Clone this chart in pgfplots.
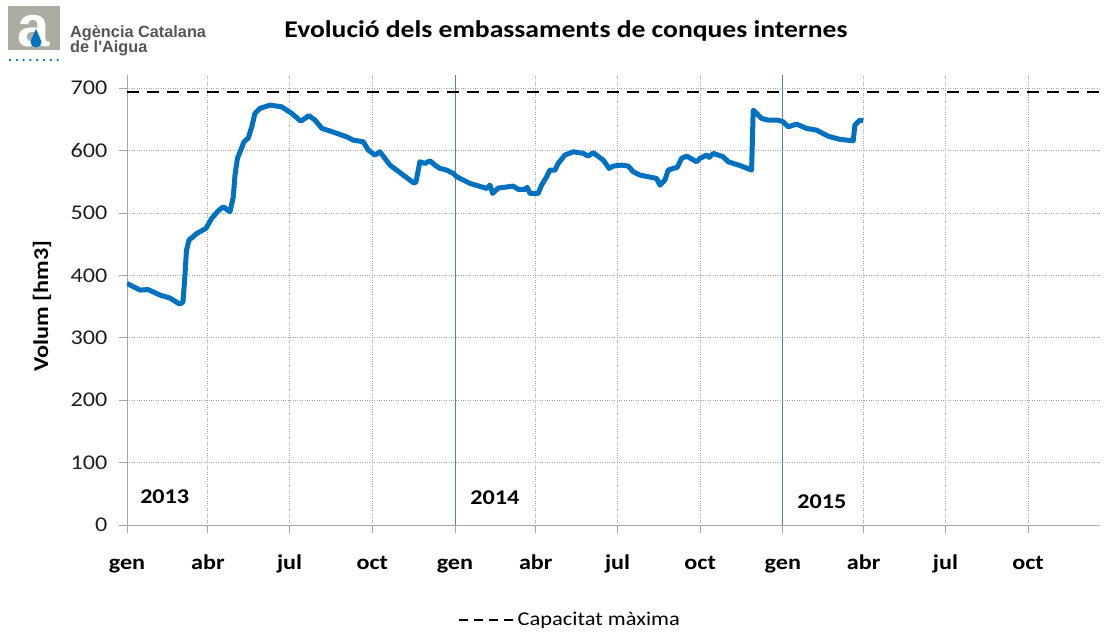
\documentclass[border=0pt]{standalone}
\usepackage{pgfplots}
\pgfplotsset{compat=1.18}
\usepackage{fontspec}
\setmainfont{Carlito}[FakeStretch=1.15]
\newfontfamily\logofont{Liberation Sans}
\definecolor{lineblue}{RGB}{0,112,192}
\definecolor{yearline}{RGB}{79,129,189}
\definecolor{logogray}{RGB}{172,172,162}
\definecolor{logotext}{RGB}{85,85,85}
\definecolor{ticktext}{RGB}{30,30,30}
\begin{document}
\begin{tikzpicture}
\path[use as bounding box] (0pt,0pt) rectangle (1104pt,632pt);
% logo
\fill[logogray] (8pt,582pt) rectangle (60pt,626pt);
\node[text=white, font=\logofont\bfseries\fontsize{58}{58}\selectfont, anchor=base] at (34pt,585pt) {a};
\fill[lineblue] (36pt,590pt) circle (5.5pt);
\fill[lineblue] (31.5pt,593pt) -- (36pt,603pt) -- (40.5pt,593pt) -- cycle;
\foreach \i in {0,...,7} \fill[lineblue] ({10pt+\i*6.8pt},572pt) circle (1.3pt);
\node[anchor=base west, font=\logofont\bfseries\fontsize{16.3}{17}\selectfont, text=logotext, inner sep=0] at (70pt,594pt) {Agència Catalana};
\node[anchor=base west, font=\logofont\bfseries\fontsize{16.3}{17}\selectfont, text=logotext, inner sep=0] at (70pt,579pt) {de l'Aigua};
% title
\node[font=\bfseries\fontsize{24}{28}\selectfont] at (566pt,601pt) {Evolució dels embassaments de conques internes};
\begin{axis}[
  at={(127pt,107pt)}, anchor=south west,
  width=973pt, height=450pt, scale only axis,
  xmin=0, xmax=1083, ymin=0, ymax=721,
  axis lines=left, axis line style={-, gray!70, line width=0.8pt},
  tick align=outside, xtick pos=left, ytick pos=left,
  major tick length=8pt, tick style={gray!70, line width=0.8pt},
  grid=major, major grid style={dotted, gray!70, line width=0.8pt},
  xtick={0,90,181,273,365,455,546,638,730,820,911,1003},
  xticklabels={gen,abr,jul,oct,gen,abr,jul,oct,gen,abr,jul,oct},
  ytick={0,100,...,700},
  /pgf/number format/assume math mode=true,
  yticklabel style={font=\fontsize{21}{25}\selectfont, text=ticktext, xshift=-8pt},
  xticklabel style={font=\bfseries\fontsize{21}{25}\selectfont, text=black, text height=14pt, text depth=5pt, yshift=-19pt},
  ylabel={Volum [hm3]},
  ylabel style={font=\bfseries\fontsize{21}{25}\selectfont, at={(axis description cs:-0.0874,0.487)}, anchor=center},
  legend style={at={(axis description cs:0.455,-0.211)}, anchor=center, draw=none, fill=none, font=\fontsize{19.5}{22}\selectfont},
  legend image code/.code={\draw[black, line width=2.2pt, dash pattern=on 9pt off 6pt] (0pt,0pt) -- (56pt,0pt);},
]
\addplot[yearline, line width=0.8pt, forget plot] coordinates {(365,0) (365,721)};
\addplot[yearline, line width=0.8pt, forget plot] coordinates {(730,0) (730,721)};
\addplot[black, line width=2.5pt, dash pattern=on 12pt off 8pt] coordinates {(0,694) (1083,694)};
\addlegendentry{Capacitat màxima}
\addplot[lineblue, line width=5pt, line join=round, forget plot] table {
x y
0 387
14.5 376.4
23.4 377.2
36.7 368.4
47.9 363.6
58.4 354
62.3 357
64.5 400
66.2 440
69 456.5
77.9 467.2
87.9 475.3
94.3 491.3
101.6 503.4
107.2 509.8
111.3 505.4
114.6 501.8
118.3 525.4
120.2 560.6
123 587.9
127.4 603.4
130.2 614
135 620
139.1 639
142.4 659.5
148 667.5
159.1 672.8
172.2 670
183.3 659.5
193.6 647
202.5 656
209.2 648.7
217 635.4
229.6 629.5
244.5 622
251.8 616.7
263 614
268.5 600.7
276 592.7
281.5 598
292.7 576.6
319.4 547.8
321.6 549.4
326 582
331.6 579.4
337.2 583.5
342.8 576.6
348.3 571.4
355.8 568.6
363.1 563.3
366.9 558
381.7 547.3
400.3 539.3
404 544.6
407 531.3
413.2 539.8
429.9 543
435.5 537.7
442.9 537.7
445.5 541
448.5 531.3
457.7 531.3
461.5 544.6
467.1 558
470.7 568.6
476.3 568.6
480 579.4
487.4 592.7
496.7 598
507.8 595.4
513.4 591.1
518.9 596.4
530 584.7
536.7 571.4
541.2 575
550.5 576.6
557.9 575
563.4 566
570.9 560.6
589.5 555.3
593.2 544.6
598.7 552.6
602.4 568.6
608 571.4
612.4 573
617.3 587.4
622.9 591
634 582
637.7 587.4
645.1 592.7
648 589
652.5 595.4
663.6 590
669.2 582
674.7 579.4
684.1 575
695.2 568.6
697 664.7
700.8 659.5
706.3 651.4
713.7 648.7
724.8 648.7
730.4 646
735.9 638
745.3 642.3
756.4 635.4
767.5 632.7
780.4 623
793.5 617.8
808.3 615.6
810.2 640.7
815.7 648.7
819.4 647.6
};
\node[font=\bfseries\fontsize{21}{25}\selectfont] at (axis cs:42,45) {2013};
\node[font=\bfseries\fontsize{21}{25}\selectfont] at (axis cs:409.5,43) {2014};
\node[font=\bfseries\fontsize{21}{25}\selectfont] at (axis cs:773.4,37) {2015};
\end{axis}
\end{tikzpicture}
\end{document}
